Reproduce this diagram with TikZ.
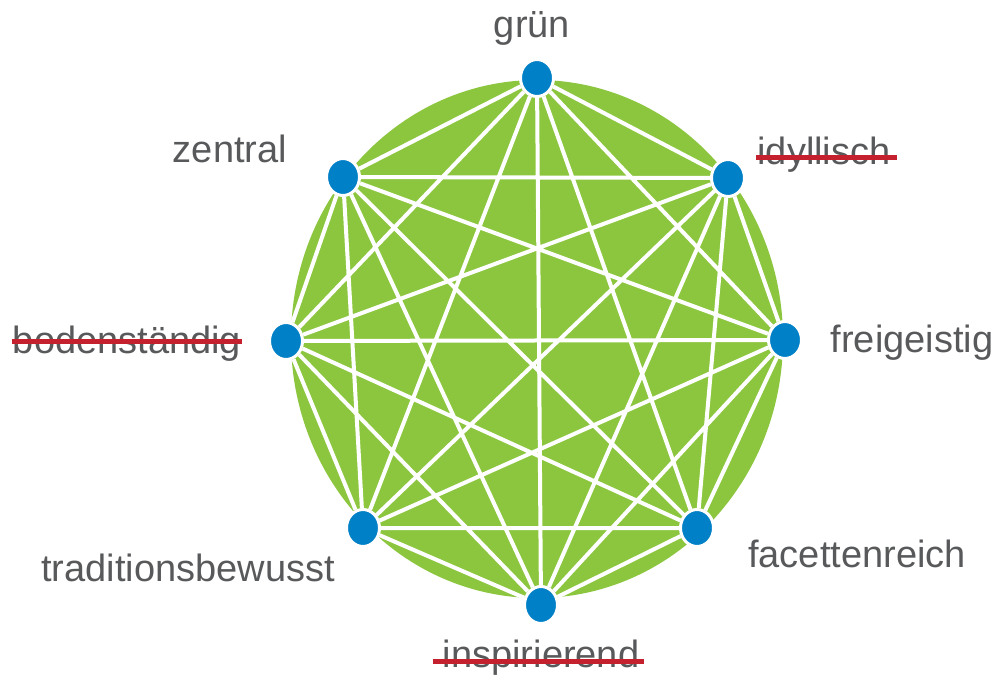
\documentclass[tikz,border=0pt]{standalone}
\usepackage{fontspec}
\setmainfont{Liberation Sans}
\usetikzlibrary{backgrounds,shapes.geometric}
\definecolor{leaf}{HTML}{8CC63F}
\definecolor{dot}{HTML}{0080C6}
\definecolor{txt}{HTML}{58595B}
\definecolor{cross}{HTML}{C4202E}
\tikzset{
  pt/.style={ellipse,draw=white,line width=3pt,fill=dot,minimum width=33pt,minimum height=37pt,inner sep=0pt},
  lbl/.style={anchor=base,inner sep=0pt,text=txt,font=\fontsize{38}{40}\selectfont},
  ln/.style={draw=white,line width=4pt},
  strike/.style={draw=cross,line width=5pt},
}
\begin{document}
\begin{tikzpicture}[x=1pt,y=-1pt]
\useasboundingbox (0,0) rectangle (997,676);
% the eight points
\node[pt] (g) at (537,78) {};
\node[pt] (i) at (728,178) {};
\node[pt] (f) at (785,340) {};
\node[pt] (fr) at (697,528) {};
\node[pt] (in) at (541,605) {};
\node[pt] (tr) at (363,528) {};
\node[pt] (b) at (286,341) {};
\node[pt] (z) at (343,177) {};
% labels
\node[lbl] (lg) at (532,38) {grün};
\node[lbl] (lz) at (230,163) {zentral};
\node[lbl] (li) at (824,165) {idyllisch};
\node[lbl] (lb) at (127,354) {bodenständig};
\node[lbl] (lf) at (912,353) {freigeistig};
\node[lbl] (ltr) at (188,581) {traditionsbewusst};
\node[lbl] (lfr) at (857,567) {facettenreich};
\node[lbl] (lin) at (541,667) {inspirierend};
\draw[strike] ([xshift=-1pt,yshift=7pt]li.base west) -- ([xshift=6pt,yshift=7pt]li.base east);
\draw[strike] ([xshift=-1pt,yshift=12pt]lb.base west) -- ([xshift=1pt,yshift=12pt]lb.base east);
\draw[strike] ([xshift=-10pt,yshift=6pt]lin.base west) -- ([xshift=5pt,yshift=6pt]lin.base east);
\begin{scope}[on background layer]
\fill[leaf] (537,339) ellipse [x radius=246,y radius=259];
\draw[ln] (g)--(i) (g)--(f) (g)--(fr) (g)--(in) (g)--(tr) (g)--(b) (g)--(z)
  (i)--(f) (i)--(fr) (i)--(in) (i)--(tr) (i)--(b) (i)--(z)
  (f)--(fr) (f)--(in) (f)--(tr) (f)--(b) (f)--(z)
  (fr)--(in) (fr)--(tr) (fr)--(b) (fr)--(z)
  (in)--(tr) (in)--(b) (in)--(z)
  (tr)--(b) (tr)--(z)
  (b)--(z);
\end{scope}
\end{tikzpicture}
\end{document}
